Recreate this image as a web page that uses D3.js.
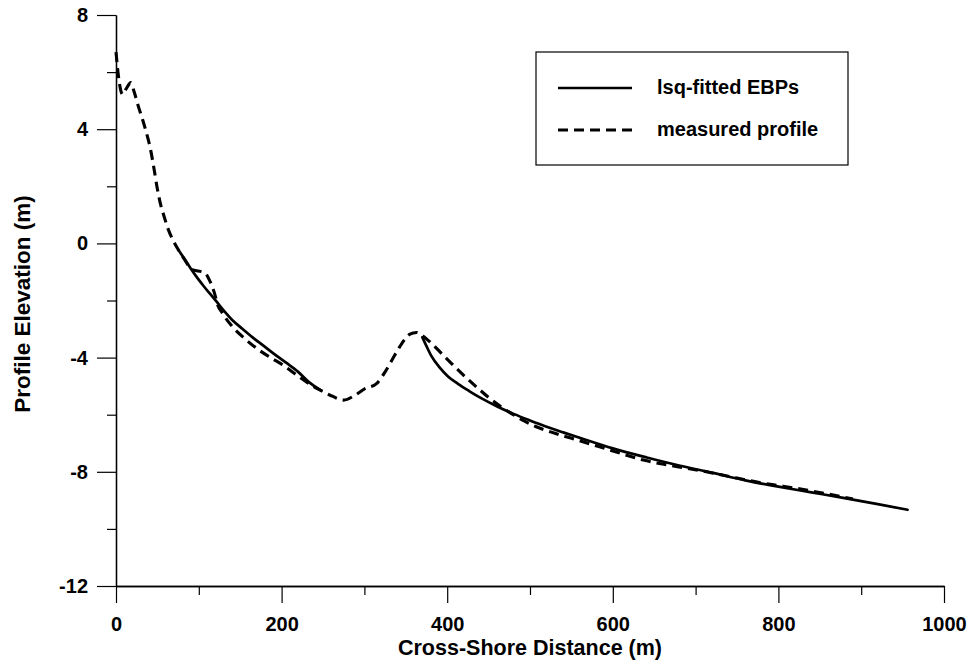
<!DOCTYPE html>
<html>
<head>
<meta charset="utf-8">
<script src="https://cdn.jsdelivr.net/npm/d3@7"></script>
<style>
  html, body { margin: 0; padding: 0; background: #fff; }
  svg { display: block; }
  text { font-family: "Liberation Sans", Arial, Helvetica, sans-serif; font-weight: bold; fill: #000; }
</style>
</head>
<body>
<svg id="chart" width="971" height="669"></svg>
<script>
// ---- data ----
const measuredDist = [0,3,8,12,18,22,27,32,36,42,46,50,54,58,63,70,78,84,90,96,102,108,114,119,123,128,141,155,170,186,201,220,235,249,262,275,288,300,315,325,333,341,349,355,363,371,381,393,405,421,437,451,465,480,493,510,530,561,590,610,637,660,690,720,750,780,800,832,860,890];
const measuredElev = [6.7,5.85,5.22,5.4,5.63,5.3,4.8,4.35,3.95,3.25,2.6,1.9,1.35,0.95,0.5,0.05,-0.35,-0.62,-0.88,-0.95,-0.98,-1.05,-1.36,-1.75,-2.17,-2.42,-2.93,-3.32,-3.68,-3.99,-4.25,-4.65,-4.95,-5.17,-5.36,-5.49,-5.33,-5.1,-4.9,-4.5,-4.1,-3.7,-3.35,-3.18,-3.12,-3.25,-3.5,-3.85,-4.2,-4.65,-5.07,-5.42,-5.72,-6.0,-6.22,-6.45,-6.65,-6.92,-7.18,-7.36,-7.59,-7.73,-7.88,-8.04,-8.22,-8.39,-8.48,-8.63,-8.78,-8.95];

const fitDist1 = [77,84,90,98,106,114,122,131,141,153,165,178,190,205,220,233,248];
const fitElev1 = [-0.3,-0.6,-0.87,-1.2,-1.5,-1.78,-2.06,-2.38,-2.7,-3.0,-3.29,-3.58,-3.85,-4.17,-4.5,-4.86,-5.16];

const fitDist2 = [370,375,381,391,401,413,427,441,461,481,500,520,540,561,600,641,680,721,760,800,840,880,920,956];
const fitElev2 = [-3.29,-3.6,-3.95,-4.35,-4.66,-4.92,-5.18,-5.42,-5.72,-5.98,-6.2,-6.42,-6.62,-6.82,-7.18,-7.5,-7.78,-8.04,-8.3,-8.52,-8.72,-8.92,-9.13,-9.33];

const xMajorTicks = [0,200,400,600,800,1000];
const xMinorTicks = [100,300,500,700,900];
const yMajorTicks = [8,4,0,-4,-8,-12];
const yMinorTicks = [6,2,-2,-6,-10];

const seriesNames = ["lsq-fitted EBPs", "measured profile"];
const xTitle = "Cross-Shore Distance (m)";
const yTitle = "Profile Elevation (m)";

// ---- chart ----
const svg = d3.select("#chart");
const x = d3.scaleLinear().domain([0, 1000]).range([116, 944]);
const y = d3.scaleLinear().domain([-12, 8]).range([586, 15]);

const fmt = d => String(d); // plain hyphen-minus as in the reference

// axes
const xAxisMajor = d3.axisBottom(x).tickValues(xMajorTicks).tickSize(17).tickSizeOuter(0).tickPadding(14).tickFormat(fmt);
const xAxisMinor = d3.axisBottom(x).tickValues(xMinorTicks).tickSize(9).tickSizeOuter(0).tickFormat("");
const yAxisMajor = d3.axisLeft(y).tickValues(yMajorTicks).tickSize(19).tickSizeOuter(0).tickPadding(9).tickFormat(fmt);
const yAxisMinor = d3.axisLeft(y).tickValues(yMinorTicks).tickSize(9).tickSizeOuter(0).tickFormat("");

function styleAxis(g) {
  g.select(".domain").attr("stroke", "#000").attr("stroke-width", 1.3);
  g.selectAll(".tick line").attr("stroke", "#000").attr("stroke-width", 1.2);
  g.selectAll(".tick text").attr("font-size", 20).attr("font-weight", "bold")
    .attr("font-family", '"Liberation Sans", Arial, sans-serif').attr("fill", "#000");
}

svg.append("g").attr("transform", `translate(0,${y(-12)})`).call(xAxisMinor).call(styleAxis);
svg.append("g").attr("transform", `translate(0,${y(-12)})`).call(xAxisMajor).call(styleAxis);
svg.append("g").attr("transform", `translate(${x(0)},0)`).call(yAxisMinor).call(styleAxis);
svg.append("g").attr("transform", `translate(${x(0)},0)`).call(yAxisMajor).call(styleAxis);

// lines
const line = d3.line().x(d => x(d[0])).y(d => y(d[1])).curve(d3.curveMonotoneX);
const zip = (a, b) => a.map((v, i) => [v, b[i]]);

svg.append("path").datum(zip(measuredDist, measuredElev))
  .attr("d", line).attr("fill", "none").attr("stroke", "#000")
  .attr("stroke-width", 3.1).attr("stroke-dasharray", "10,6");

[zip(fitDist1, fitElev1), zip(fitDist2, fitElev2)].forEach(seg => {
  svg.append("path").datum(seg)
    .attr("d", line).attr("fill", "none").attr("stroke", "#000")
    .attr("stroke-width", 2.7).attr("stroke-linecap", "round");
});

// axis titles
svg.append("text").attr("x", 530).attr("y", 655).attr("text-anchor", "middle")
  .attr("font-size", 21.5).text(xTitle);
svg.append("text").attr("transform", "translate(30,304) rotate(-90)").attr("text-anchor", "middle")
  .attr("font-size", 22.5).text(yTitle);

// legend
const lg = svg.append("g");
lg.append("rect").attr("x", 536).attr("y", 52).attr("width", 312).attr("height", 113)
  .attr("fill", "none").attr("stroke", "#000").attr("stroke-width", 1.2);
lg.append("line").attr("x1", 558).attr("x2", 632).attr("y1", 88).attr("y2", 88)
  .attr("stroke", "#000").attr("stroke-width", 2.7);
lg.append("line").attr("x1", 558).attr("x2", 632).attr("y1", 130).attr("y2", 130)
  .attr("stroke", "#000").attr("stroke-width", 3.1).attr("stroke-dasharray", "10,6");
lg.append("text").attr("x", 657).attr("y", 94).attr("font-size", 20).text(seriesNames[0]);
lg.append("text").attr("x", 657).attr("y", 136).attr("font-size", 20).text(seriesNames[1]);
</script>
</body>
</html>
